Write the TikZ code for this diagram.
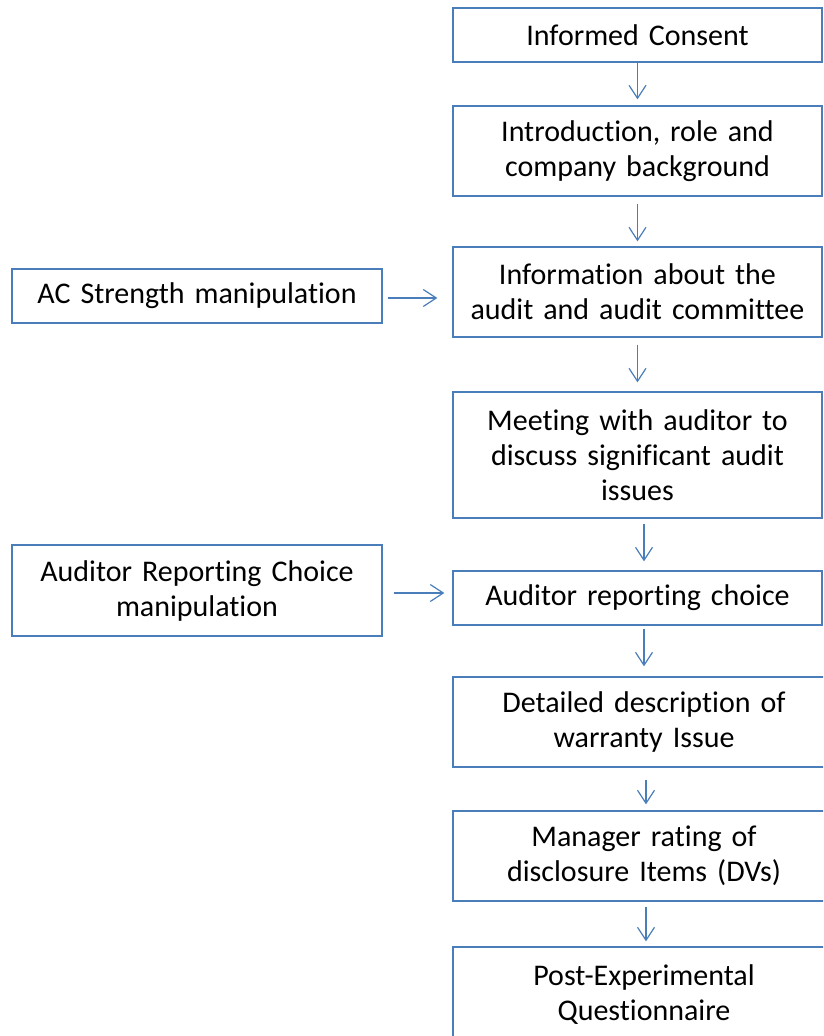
\documentclass[tikz,border=0pt]{standalone}
\usepackage{fontspec}
\setmainfont{Carlito}[Ligatures=NoCommon, WordSpace=0.9]
\usepackage{tikz}
\usetikzlibrary{arrows.meta}
\definecolor{boxblue}{RGB}{74,126,187}
\tikzset{
  box/.style={draw=boxblue, line width=1.3pt, align=center, inner sep=0pt,
    font=\fontsize{30}{35}\selectfont},
  mainbox/.style={box, minimum width=369pt, text width=360pt},
  widebox/.style={box, minimum width=382pt, text width=360pt},
  flow/.style={draw=boxblue, line width=1.2pt, ->},
}

\begin{document}
\begin{tikzpicture}[x=1pt, y=-1pt, >={Straight Barb[length=13pt, width=17pt]}]
%%%%% Frame %%%%%
\useasboundingbox (0,0) rectangle (823,1036);
\clip (0,0) rectangle (823,1036);
%%%%% Main column %%%%%
\node[mainbox, minimum height=54pt]  (consent) at (637.5,35)  {Informed Consent};
\node[mainbox, minimum height=90pt]  (intro)   at (637.5,151) {Introduction, role and\\company background};
\node[mainbox, minimum height=90pt]  (info)    at (637.5,292) {Information about the\\audit and audit committee};
\node[mainbox, minimum height=126pt] (meeting) at (637.5,455) {Meeting with auditor to\\discuss significant audit\\issues};
\node[mainbox, minimum height=54pt]  (choice)  at (637.5,598) {Auditor reporting choice};
\node[widebox, minimum height=90pt]  (detail)  at (644,722)   {Detailed description of\\warranty Issue};
\node[widebox, minimum height=90pt]  (rating)  at (644,856)   {Manager rating of\\disclosure Items (DVs)};
\node[widebox, minimum height=96pt]  (post)    at (644,995)   {Post-Experimental\\Questionnaire};
%%%%% Manipulations %%%%%
\node[box, minimum width=370pt, minimum height=54pt, text width=360pt] (acman)  at (197,296)   {AC Strength manipulation};
\node[box, minimum width=370pt, minimum height=91pt, text width=360pt] (arcman) at (197,590.5) {Auditor Reporting Choice\\manipulation};
%%%%% Arrows %%%%%
\draw[flow, shorten >=6pt] (consent) -- (intro);
\draw[flow, shorten <=7pt, shorten >=5pt] (intro) -- (info);
\draw[flow, shorten <=7pt, shorten >=9pt] (info) -- (meeting);
\draw[flow, shorten <=5pt, shorten >=9pt] ([xshift=6.5pt]meeting.south) -- ([xshift=6.5pt]choice.north);
\draw[flow, shorten <=3pt, shorten >=10pt] (choice.south -| detail.north) -- (detail.north);
\draw[flow, shorten <=12pt, shorten >=6pt] ([xshift=2pt]detail.south) -- ([xshift=2pt]rating.north);
\draw[flow, shorten <=5pt, shorten >=5pt] ([xshift=2pt]rating.south) -- ([xshift=2pt]post.north);
\draw[flow, shorten <=5pt, shorten >=15pt] ([yshift=-2pt]acman.east) -- ([yshift=-2pt]acman.east -| info.west);
\draw[flow, shorten <=11pt, shorten >=8pt] ([yshift=-2.5pt]arcman.east) -- ([yshift=-2.5pt]arcman.east -| choice.west);
\end{tikzpicture}
\end{document}
